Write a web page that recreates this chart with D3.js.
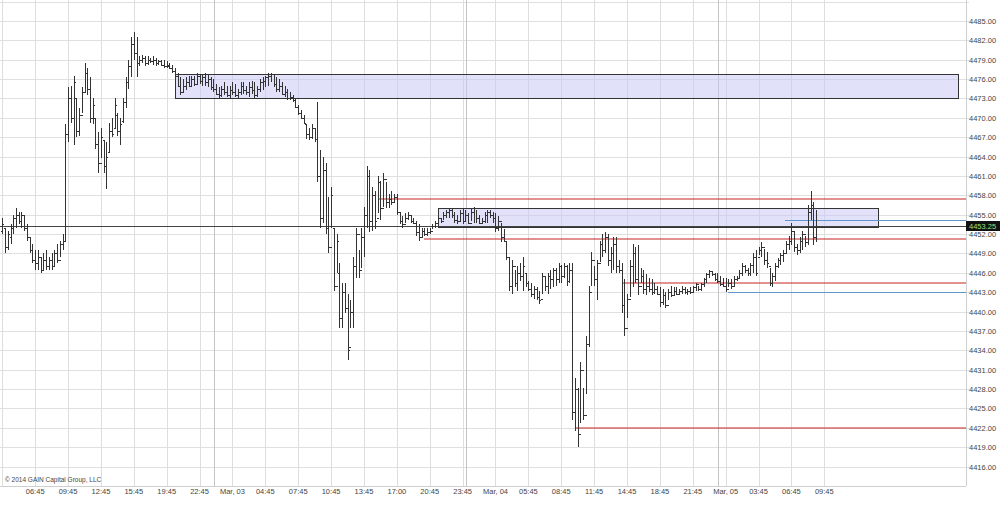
<!DOCTYPE html>
<html><head><meta charset="utf-8">
<script src="https://cdn.jsdelivr.net/npm/d3@7"></script>
<style>html,body{margin:0;padding:0;background:#fff;}svg{display:block;font-family:"Liberation Sans",Arial,sans-serif;}</style>
</head><body><svg id="c" width="1000" height="507"></svg>
<script>
const highs=[4454.5,4453,4452.5,4453.5,4455,4456,4455.5,4455.5,4455,4453.5,4451.5,4450.5,4449.5,4449.5,4448.5,4449,4449.5,4448.5,4449,4449.5,4450.5,4451,4452,4469,4474.75,4475,4476.5,4473,4471.5,4474.75,
4478.5,4477.75,4476.25,4473,4470,4467.75,4468.5,4466.5,4466.25,4469.25,4470,4473,4470.75,4470,4473,4476.25,4479,4482.5,4483.25,4482.5,4479.5,4479.75,4479.5,4479.5,4479.25,4479.5,4479.25,4479,4479,4479,
4478.75,4478.5,4478.25,4477.75,4477,4476.25,4476,4476.25,4476.5,4476.5,4476.5,4477,4476.75,4476.75,4477,4476.75,4476.25,4476,4475.25,4474.75,4475,4475.5,4475,4475,4475.5,4475.25,4474.5,4475.5,4475.5,4475,
4475.5,4475.75,4475.5,4475,4476,4476.25,4476.5,4477,4477,4476.75,4476.25,4476,4475.5,4475,4474.5,4474,4473.5,4473,4472,4471.25,4470.5,4469,4468.5,4469,4468.5,4472.5,4465,4464,4463,4457.75,
4459.25,4453,4452,4447.5,4444.5,4444.5,4442.75,4441.75,4448.5,4453,4449.5,4453,4456.25,4462.5,4462,4459.25,4458.75,4461,4460.25,4461.5,4460,4458.25,4458.75,4458.25,4458.25,4455.25,4454.75,4455.25,4455.5,4455,
4454.5,4454,4453.5,4453,4453,4453,4453,4453.5,4454,4455,4454.5,4455.5,4455.75,4456,4456,4455.5,4455,4455.75,4456,4455.75,4455.25,4456,4456.25,4455.75,4455,4454.5,4455.5,4455.75,4455.75,4455.5,
4455.25,4454.75,4453.75,4452.75,4451,4448.5,4448,4446.5,4447,4447.5,4448.5,4446,4444.75,4444.5,4444,4443.75,4443.25,4446,4445.5,4446,4446.5,4446.75,4446.75,4447.5,4447.25,4447.5,4447.25,4447.5,4447.5,4429.75,
4428.25,4432.25,4428.25,4436.25,4444,4449.25,4447,4448,4451,4452,4452.25,4452,4450,4451.5,4451.5,4448,4447.5,4445,4442.75,4448,4450.5,4450,4450.25,4446.75,4446.5,4445.75,4445.25,4445,4444.5,4444,
4443.75,4443.5,4443,4443.5,4444,4443.75,4443.75,4443.5,4444,4443.75,4443.5,4443.75,4444,4444.5,4444,4444.5,4445.25,4446,4446.5,4446.25,4446,4446,4445.5,4445.25,4445.25,4445,4445,4445.5,4445.5,4446.5,
4447.5,4447.25,4446.75,4447.5,4449,4449.5,4450,4450.75,4449.75,4449.25,4446.75,4446,4447.5,4448.25,4449,4449.5,4451,4451.75,4453.75,4452.5,4450.5,4451.5,4452.5,4451.75,4456.5,4458.75,4457,4455.75];
const lows=[4452,4449,4449.5,4450.5,4452,4453,4453.5,4453,4452.5,4451,4449,4447.5,4446.5,4446.5,4446,4446.5,4446.5,4446.5,4446.5,4447,4447.5,4448.5,4449.5,4451,4466.25,4469.25,4465.75,4467,4467.25,4470.75,
4474,4473.5,4469.25,4469,4465.25,4461.5,4463.75,4461.5,4459,4464.75,4467,4468.5,4467.25,4465.75,4469.25,4471.5,4474.5,4476.25,4479,4476.25,4478,4478.5,4478,4478.25,4478.5,4478.25,4478,4478.25,4478,4477.75,
4477.75,4477.5,4477,4476.25,4474.75,4473.5,4474,4474.25,4474.75,4474.75,4475,4475.25,4475.25,4475,4475,4474.75,4474.25,4474,4473.5,4473,4473.25,4473.5,4473.25,4473,4473.5,4473.25,4473,4473.5,4473.75,4473.5,
4473.25,4473.75,4473,4473.25,4474,4474.25,4474.75,4475,4475.5,4474.75,4474,4474,4473.5,4473.25,4472.75,4472.75,4472.5,4471.5,4470.5,4469.75,4469,4466.75,4466.5,4466.75,4466.25,4460,4453,4453.75,4452,4449,
4453,4443.25,4446,4437.5,4437.5,4439.75,4432.5,4437.5,4437.5,4445.25,4445.25,4446.75,4448.5,4453,4452.25,4452.5,4452.75,4455.25,4454.25,4456.25,4456,4456,4456.5,4456.75,4455,4453.5,4453,4453.75,4454.25,4453.75,
4453.5,4451.75,4451,4451.5,4451.75,4451.75,4452,4452.75,4453,4453,4453.75,4454.25,4454.5,4454.5,4454.5,4453.75,4453.5,4454,4453.5,4454,4453.5,4454,4453.75,4453.75,4453.5,4453.5,4453.75,4453.75,4454.5,4453.75,
4452.25,4452.5,4450.75,4450.75,4448,4443.25,4442.75,4443.75,4443.25,4444.75,4443.25,4443.75,4443.25,4442.25,4442,4441.75,4441.25,4442.75,4443.25,4442.75,4443.5,4443.75,4444,4444.5,4444.5,4445.25,4444,4444.5,4423.25,4421.5,
4419,4422.75,4423.25,4427.25,4434.5,4444,4444,4441.75,4447.75,4448.5,4449,4447,4446,4446.5,4446,4446,4439.75,4436.25,4439,4442.25,4443.75,4444.5,4442.5,4444.5,4442.75,4442.5,4443,4442.5,4442.75,4442.5,
4440.75,4441,4440.5,4441.75,4442.25,4442.5,4442.5,4442.5,4442.75,4442.75,4442.5,4442.75,4443,4443.25,4443.25,4443.25,4443.75,4444.5,4445.25,4445.5,4444.75,4444.5,4444,4443.75,4443,4443.75,4443.5,4444,4444.75,4445.25,
4445.5,4446,4445.5,4445.5,4446,4445.5,4448.75,4448.5,4447.25,4446.75,4444,4443.75,4444.75,4446.75,4447.25,4447.75,4449,4449.5,4450.25,4449.25,4448.75,4449,4449.5,4450,4450.25,4454.25,4450.25,4450.75];
const opens=[4452.5,4453,4450,4451.5,4453,4454.5,4455,4454,4455,4453,4451.5,4449.5,4448,4447.5,4448.5,4446.5,4448,4447,4448,4447,4449,4448,4450.5,4451,4467.5,4473,4470,4473,4468,4470.5,
4474,4477,4474.5,4470,4470,4466,4463,4466.5,4462.5,4464.75,4468,4468.5,4470.5,4468,4469.5,4472.5,4475.5,4478,4481.5,4480,4478.5,4479,4479.25,4478.5,4479,4478.75,4479,4478.5,4478.75,4478.25,
4478,4478,4477.75,4477.25,4476.5,4475,4474,4475,4475.5,4475,4476,4475.25,4476.5,4475.75,4476.25,4475.5,4476,4474.75,4474.5,4473.75,4473.5,4474.5,4474,4473.5,4474.25,4474,4473.5,4474,4475,4474.25,
4474,4474.75,4474.25,4473.5,4474.5,4475.5,4475.75,4476.25,4476.5,4476.75,4475.25,4474.5,4475,4473.75,4474,4473,4473.25,4472.75,4471.75,4470.75,4470,4469,4467.5,4467,4468.5,4466.75,4461,4454.5,4462,4453,
4450,4453,4444,4446,4439,4443,4440.5,4434.5,4440,4447,4452,4446.5,4451.5,4455,4461,4454,4458,4454.5,4460,4456,4460.5,4457,4457.5,4457,4457.75,4455.5,4454,4453.5,4454.5,4455,
4454,4453.75,4452.25,4451.5,4452.5,4452,4452.25,4452.5,4453.25,4453.75,4454.5,4454,4455,4455.5,4455.75,4455,4454.25,4454,4455.25,4454,4455,4453.75,4455.5,4456,4454.5,4453.75,4454,4455,4455.5,4455,
4454.5,4453,4454,4451.5,4451,4448.5,4444,4447,4444.5,4446,4445.5,4446,4444.5,4443.5,4442.75,4443.5,4442.25,4442,4445.5,4444,4445.5,4445,4446.5,4445,4447,4445.5,4447,4444.75,4446.5,4424.5,
4428,4421,4431,4424,4435,4443,4448,4445,4447.5,4450.5,4449.5,4451.5,4448,4449,4450.5,4447,4446.5,4441,4437.5,4442,4447,4449,4445,4444,4445.5,4443.5,4444,4443.5,4443,4443.5,
4442.75,4441.5,4442.5,4441,4443,4442.5,4443.25,4442.75,4443.25,4443.5,4443,4443.25,4443,4443.75,4444.25,4443.5,4444.25,4445,4445.75,4446.25,4445.75,4445,4444.75,4444.25,4444,4443.5,4444.5,4444,4445,4445.25,
4446,4447,4446.5,4446,4447.25,4448.5,4448.5,4449.5,4450,4448,4447,4444.5,4445.5,4447,4448,4448.75,4449,4450.5,4451,4452.5,4450,4449.5,4451,4452,4450.75,4455.5,4456.5,4451.5];
const closes=[4453.5,4450,4452,4453,4454.5,4455,4454,4455,4453,4451.5,4449.5,4448,4447.5,4448.5,4446.5,4448,4447,4448,4447,4449,4448,4450.5,4451,4467.5,4473,4470,4475.5,4468,4470.5,4474,
4477,4474.5,4470,4472,4466,4463,4467,4462.5,4464,4468,4467.5,4472,4468,4469,4472.5,4475.5,4478,4481.5,4480,4478.5,4479,4479.25,4478.5,4479,4478.75,4479,4478.5,4478.75,4478.25,4478,
4478.25,4477.75,4477.25,4476.5,4475,4474,4475,4475.5,4475,4476,4475.25,4476.5,4475.75,4476.25,4475.5,4476,4474.75,4474.5,4473.75,4473.5,4474.5,4474,4473.5,4474.25,4474,4473.5,4474,4475,4474.25,4474,
4474.75,4474.25,4473.5,4474.5,4475.5,4475.75,4476.25,4476.5,4476.75,4475.25,4474.5,4475,4473.75,4474,4473,4473.25,4472.75,4471.75,4470.75,4470,4469.25,4467.5,4467,4468.5,4466.75,4461,4454.5,4462,4453,4450,
4458,4444,4451,4439,4443,4440.5,4434,4440,4447,4452,4446.5,4451.5,4455,4461,4454,4458,4454,4460,4456,4460.5,4457,4457.5,4457,4457.75,4455.5,4454,4453.5,4454.5,4455,4454,
4453.75,4452.25,4451.5,4452.5,4452,4452.25,4452.5,4453.25,4453.75,4454.5,4454,4455,4455.5,4455.75,4455,4454.25,4454,4455.25,4454,4455,4453.75,4455.5,4456,4454.5,4453.75,4454,4455,4455.5,4455,4454.5,
4453,4454,4451.5,4451,4448.5,4444,4447,4444.5,4446,4445.5,4447,4444.5,4443.5,4442.75,4443.5,4442.25,4441.75,4445.5,4444,4445.5,4445,4446.5,4445,4447,4445.5,4447,4444.75,4446.5,4424.5,4428,
4421,4431,4424,4435,4443,4448,4445,4447.5,4450.5,4449.5,4451.5,4448,4449,4450.5,4447,4446.5,4441,4437.5,4442,4447,4449,4445,4444,4445.5,4443.5,4444,4443.5,4443,4443.5,4442.75,
4441.5,4442.5,4441,4443,4442.5,4443.25,4442.75,4443.25,4443.5,4443,4443.25,4443,4443.75,4444.25,4443.5,4444.25,4445,4445.75,4446.25,4445.75,4445,4444.75,4444.25,4444,4443.5,4444.5,4444,4445,4445.25,4446,
4447,4446.5,4446,4447.25,4448.5,4446,4449.5,4450,4448,4447.5,4444.5,4445.5,4447,4448,4448.75,4449,4450.5,4451,4452.5,4450,4449.5,4451,4452,4450.75,4455.5,4456.5,4451.5,4453.25];

const timeLabels=["06:45","09:45","12:45","15:45","19:45","22:45","Mar, 03","04:45","07:45","10:45","13:45","17:00","20:45","23:45","Mar, 04","05:45","08:45","11:45","14:45","18:45","21:45","Mar, 05","03:45","06:45","09:45"];
const labelBars=[12,24,36,48,60,72,84,96,108,120,132,144,156,168,180,192,204,216,228,240,252,264,276,288,300];
const dayBreaks=[77,169,261];
const priceTicks=d3.range(4416,4486,3);
const gridPrices=d3.range(4416,4489,3);
const boxStart=[63,159], boxEnd=[349,320], boxTop=[4476.75,4456], boxBottom=[4473,4453];
const redLevels=[4457.5,4451.25,4444.5,4422], redStart=[137,154,226,209];
const blueLevels=[4454.25,4443], blueStart=[285.5,265];
const lastPrice=4453.25;

const svg=d3.select("#c");
const W=966,H=486;
const x=d3.scaleLinear().domain([0,300]).range([2.3,824.3]);
const y=d3.scaleLinear().domain([4413,4488]).range([486,1.6]);
const px=v=>Math.round(v)+0.5;

svg.append("g").selectAll("line").data(gridPrices).join("line")
 .attr("x1",0).attr("x2",W+3).attr("y1",d=>px(y(d))).attr("y2",d=>px(y(d)))
 .attr("stroke","#e0e0e0").attr("stroke-width",1);
svg.append("g").selectAll("line").data([0].concat(labelBars)).join("line")
 .attr("x1",d=>px(x(d))).attr("x2",d=>px(x(d))).attr("y1",0).attr("y2",H)
 .attr("stroke","#dedede");
svg.append("g").selectAll("line").data(dayBreaks).join("line")
 .attr("x1",d=>px(x(d+0.3))).attr("x2",d=>px(x(d+0.3))).attr("y1",0).attr("y2",H)
 .attr("stroke","#c4c4c4");

svg.append("g").selectAll("rect").data(boxStart.map((s,i)=>i)).join("rect")
 .attr("x",i=>px(x(boxStart[i]))).attr("y",i=>px(y(boxTop[i])))
 .attr("width",i=>Math.round(x(boxEnd[i])-x(boxStart[i]))-1)
 .attr("height",i=>Math.round(y(boxBottom[i])-y(boxTop[i])))
 .attr("fill","rgb(200,200,245)").attr("fill-opacity",0.55)
 .attr("stroke","#333").attr("stroke-width",1);

svg.append("line").attr("x1",0).attr("x2",W).attr("y1",px(y(lastPrice))).attr("y2",px(y(lastPrice)))
 .attr("stroke","#444");

const levels=svg.append("g");
redLevels.forEach((v,i)=>{
  const yy=Math.round(y(v));
  levels.append("line").attr("x1",Math.round(x(redStart[i]))).attr("x2",W)
   .attr("y1",yy).attr("y2",yy).style("stroke","rgb(200,35,35)").style("stroke-width","1.05px");
});
blueLevels.forEach((v,i)=>{
  levels.append("line").attr("x1",Math.round(x(blueStart[i]))).attr("x2",W)
   .attr("y1",px(y(v))).attr("y2",px(y(v))).style("stroke","rgb(95,150,205)").style("stroke-width","1px")
   .attr("shape-rendering","crispEdges");
});

const bars=svg.append("g").attr("stroke","#333").attr("stroke-width",1).attr("shape-rendering","crispEdges");
const idx=d3.range(highs.length);
bars.selectAll("path").data(idx).join("path")
 .attr("d",i=>{const cx=Math.round(x(i))+0.5;const yh=Math.round(y(highs[i])),yl=Math.round(y(lows[i]));
   const yo=Math.round(y(opens[i]))+0.5,yc=Math.round(y(closes[i]))+0.5;
   return `M${cx},${yh}V${Math.max(yl,yh+1)}M${cx-1.5},${yo}H${cx}M${cx},${yc}H${cx+1.5}`;})
 .attr("fill","none");

svg.append("line").attr("x1",px(W)).attr("x2",px(W)).attr("y1",0).attr("y2",H).attr("stroke","#cfcfcf");
svg.append("line").attr("x1",0).attr("x2",W).attr("y1",px(H)).attr("y2",px(H)).attr("stroke","#cfcfcf");

svg.append("g").selectAll("text").data(priceTicks).join("text")
 .attr("x",969).attr("y",d=>y(d)+3).attr("font-size",7.5).attr("fill","#444")
 .text(d=>d.toFixed(2));
const ly=y(lastPrice);
svg.append("rect").attr("x",966).attr("y",Math.round(ly)-5).attr("width",34).attr("height",10).attr("fill","#111");
svg.append("text").attr("x",969).attr("y",ly+3).attr("font-size",7.5).attr("fill","#9be07a").text(lastPrice.toFixed(2));

svg.append("g").selectAll("text").data(labelBars).join("text")
 .attr("x",d=>x(d)).attr("y",494).attr("text-anchor","middle").attr("font-size",7.5).attr("fill","#444")
 .text((d,i)=>timeLabels[i]);

svg.append("text").attr("x",5).attr("y",482).attr("font-size",6.5).attr("fill","#444").text("\u00A9 2014 GAIN Capital Group, LLC");
</script></body></html>
